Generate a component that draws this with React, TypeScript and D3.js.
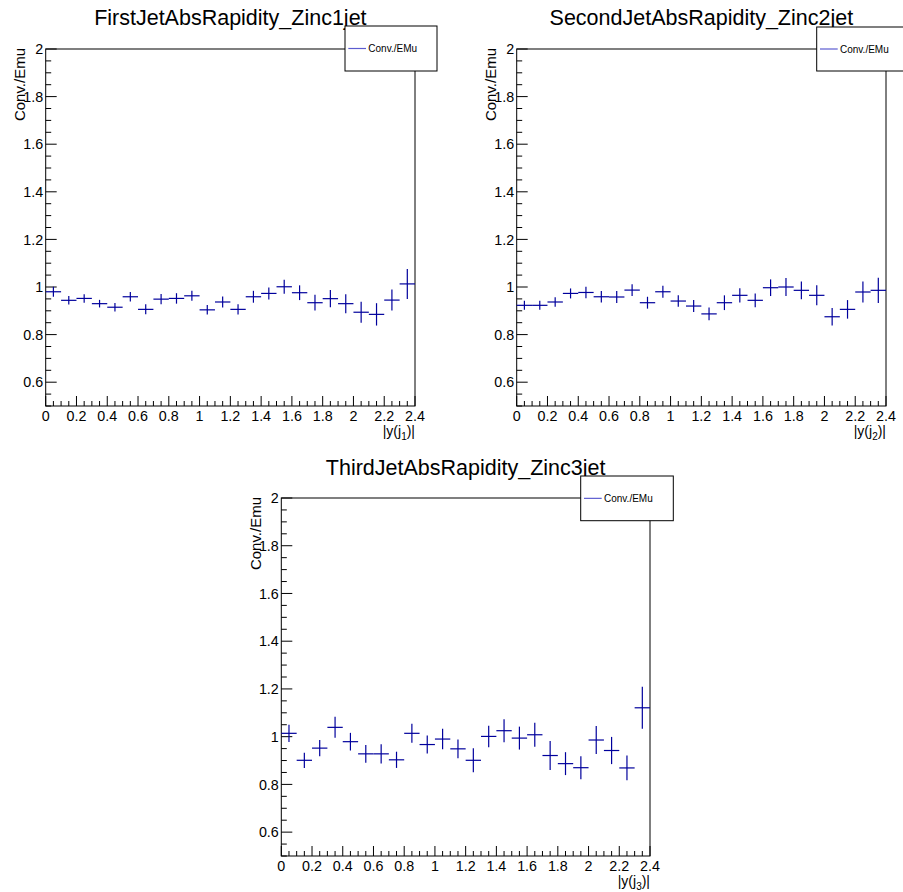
import React from "react";
import * as d3 from "d3";

// ---------- data ----------
const binCenters = [
  0.05, 0.15, 0.25, 0.35, 0.45, 0.55, 0.65, 0.75, 0.85, 0.95, 1.05, 1.15,
  1.25, 1.35, 1.45, 1.55, 1.65, 1.75, 1.85, 1.95, 2.05, 2.15, 2.25, 2.35,
];
const binHalfWidth = 0.05;

const ratio1 = [
  0.98, 0.944, 0.952, 0.93, 0.915, 0.959, 0.906, 0.949, 0.952, 0.963, 0.904, 0.937,
  0.906, 0.959, 0.973, 1.001, 0.976, 0.934, 0.951, 0.93, 0.894, 0.885, 0.945, 1.013,
];
const err1 = [
  0.021, 0.018, 0.018, 0.016, 0.018, 0.02, 0.021, 0.022, 0.022, 0.021, 0.02, 0.023,
  0.022, 0.025, 0.025, 0.029, 0.031, 0.033, 0.036, 0.04, 0.044, 0.047, 0.044, 0.063,
];

const ratio2 = [
  0.923, 0.923, 0.937, 0.973, 0.977, 0.959, 0.958, 0.987, 0.934, 0.98, 0.941, 0.92,
  0.887, 0.934, 0.965, 0.944, 0.997, 1.0, 0.986, 0.965, 0.875, 0.906, 0.979, 0.986,
];
const err2 = [
  0.019, 0.019, 0.02, 0.021, 0.024, 0.024, 0.025, 0.025, 0.025, 0.025, 0.024, 0.025,
  0.027, 0.031, 0.03, 0.029, 0.035, 0.038, 0.037, 0.042, 0.037, 0.039, 0.044, 0.053,
];

const ratio3 = [
  1.014, 0.901, 0.952, 1.039, 0.979, 0.928, 0.928, 0.903, 1.014, 0.967, 0.99, 0.949,
  0.901, 1.001, 1.025, 0.994, 1.008, 0.921, 0.887, 0.87, 0.986, 0.942, 0.869, 1.121,
];
const err3 = [
  0.036, 0.032, 0.034, 0.044, 0.037, 0.037, 0.04, 0.034, 0.04, 0.038, 0.043, 0.039,
  0.05, 0.045, 0.048, 0.048, 0.05, 0.061, 0.048, 0.048, 0.059, 0.057, 0.052, 0.088,
];

const titles = [
  "FirstJetAbsRapidity_Zinc1jet",
  "SecondJetAbsRapidity_Zinc2jet",
  "ThirdJetAbsRapidity_Zinc3jet",
];
const jetIndex = ["1", "2", "3"];
const yTitle = "Conv./Emu";
const legendLabel = "Conv./EMu";
const xDomain = [0, 2.4];
const yDomain = [0.5, 2];
const xTickValues = [0, 0.2, 0.4, 0.6, 0.8, 1, 1.2, 1.4, 1.6, 1.8, 2, 2.2, 2.4];
const yTickValues = [0.6, 0.8, 1, 1.2, 1.4, 1.6, 1.8, 2];

// ---------- layout ----------
const layout = [
  { left: 45.7, right: 415, top: 49, bottom: 406, titleY: 25, leg: { x: 345, y: 26, w: 92, h: 45 } },
  { left: 516.7, right: 886, top: 49, bottom: 406, titleY: 25, leg: { x: 816.7, y: 27, w: 92, h: 44 } },
  { left: 281.3, right: 650, top: 498, bottom: 856, titleY: 475, leg: { x: 580.7, y: 476, w: 92.6, h: 44.7 } },
];
const series = [
  { v: ratio1, e: err1 },
  { v: ratio2, e: err2 },
  { v: ratio3, e: err3 },
];

const FONT = "'Liberation Sans', Arial, Helvetica, sans-serif";
const BLUE = "#00009c";

function Panel({ idx }: { idx: number }) {
  const L = layout[idx];
  const s = series[idx];
  const x = d3.scaleLinear().domain(xDomain).range([L.left, L.right]);
  const y = d3.scaleLinear().domain(yDomain).range([L.bottom, L.top]);
  const fmt = (d: number) => String(+d.toFixed(1));
  const xMinor = d3.range(0, 2.4001, 0.05);
  const yMinor = d3.range(0.5, 2.0001, 0.05);
  const isMajor = (v: number, arr: number[]) => arr.some((a) => Math.abs(a - v) < 1e-6);

  return (
    <g>
      {/* title */}
      <text x={(L.left + L.right) / 2} y={L.titleY} textAnchor="middle" fontSize={21.5} fontFamily={FONT} fill="#000">
        {titles[idx]}
      </text>
      {/* frame */}
      <rect x={L.left} y={L.top} width={L.right - L.left} height={L.bottom - L.top} fill="none" stroke="#000" strokeWidth={1} />
      {/* x ticks */}
      {xMinor.map((t, i) => {
        const major = isMajor(t, xTickValues);
        return (
          <line key={"xt" + i} x1={x(t)} x2={x(t)} y1={L.bottom} y2={L.bottom - (major ? 10 : 5)} stroke="#000" strokeWidth={1} />
        );
      })}
      {xTickValues.map((t, i) => (
        <text key={"xl" + i} x={x(t)} y={L.bottom + 14.5} textAnchor="middle" fontSize={14.3} fontFamily={FONT}>
          {fmt(t)}
        </text>
      ))}
      {/* y ticks */}
      {yMinor.map((t, i) => {
        const major = isMajor(t, yTickValues);
        return (
          <line key={"yt" + i} x1={L.left} x2={L.left + (major ? 11 : 5.5)} y1={y(t)} y2={y(t)} stroke="#000" strokeWidth={1} />
        );
      })}
      {yTickValues.map((t, i) => (
        <text key={"yl" + i} x={L.left - 2.5} y={y(t)} dy="0.36em" textAnchor="end" fontSize={14.3} fontFamily={FONT}>
          {fmt(t)}
        </text>
      ))}
      {/* axis titles */}
      <text x={L.right} y={L.bottom + 29.5} textAnchor="end" fontSize={14} fontFamily={FONT}>
        |y(j<tspan fontSize={10} dy={4}>{jetIndex[idx]}</tspan>
        <tspan dy={-4}>)|</tspan>
      </text>
      <text
        transform={`translate(${L.left - 20.7},${L.top - 1}) rotate(-90)`}
        textAnchor="end"
        fontSize={15}
        fontFamily={FONT}
      >
        {yTitle}
      </text>
      {/* data */}
      {binCenters.map((c, i) => (
        <g key={"p" + i} stroke={BLUE} strokeWidth={1.2}>
          <line x1={x(c - binHalfWidth)} x2={x(c + binHalfWidth)} y1={y(s.v[i])} y2={y(s.v[i])} />
          <line x1={x(c)} x2={x(c)} y1={y(s.v[i] - s.e[i])} y2={y(s.v[i] + s.e[i])} />
        </g>
      ))}
      {/* legend */}
      <rect x={L.leg.x} y={L.leg.y} width={L.leg.w} height={L.leg.h} fill="#fff" stroke="#000" strokeWidth={1} />
      <line
        x1={L.leg.x + 3.3}
        x2={L.leg.x + 21}
        y1={L.leg.y + L.leg.h / 2}
        y2={L.leg.y + L.leg.h / 2}
        stroke="#5c5cd0"
        strokeWidth={1.2}
      />
      <text x={L.leg.x + 23.3} y={L.leg.y + L.leg.h / 2} dy="0.36em" fontSize={10} fontFamily={FONT}>
        {legendLabel}
      </text>
    </g>
  );
}

export default function App() {
  return (
    <div style={{ position: "absolute", left: 0, top: 0, width: 903, height: 892, background: "#fff" }}>
      <svg width={903} height={892} viewBox="0 0 903 892" style={{ display: "block" }}>
        <rect x={0} y={0} width={903} height={892} fill="#fff" />
        {[0, 1, 2].map((i) => (
          <Panel key={i} idx={i} />
        ))}
      </svg>
    </div>
  );
}
